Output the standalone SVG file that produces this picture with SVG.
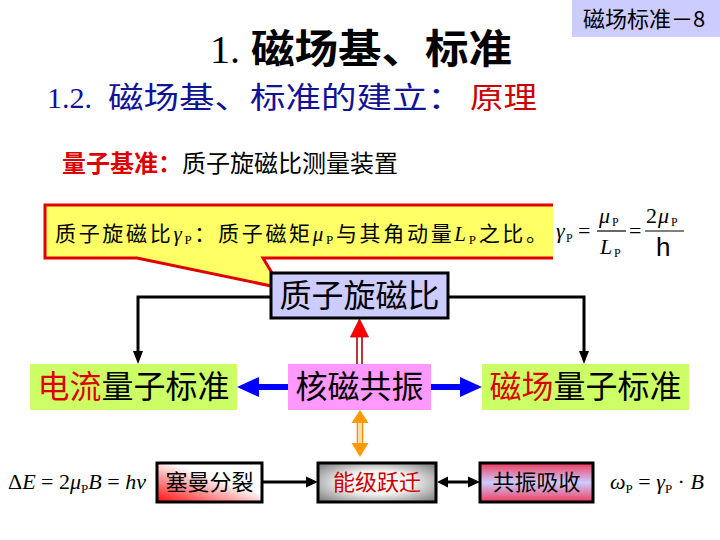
<svg xmlns="http://www.w3.org/2000/svg" width="720" height="540" viewBox="0 0 720 540">
<style>
.cjk{font-family:"Noto Sans CJK SC","Liberation Sans",sans-serif}
.ser{font-family:"Liberation Serif","Noto Sans CJK SC",serif}
.it{font-style:italic}
.box{stroke:#000;stroke-width:3}
.bline{stroke:#000;stroke-width:3;fill:none}
</style>
<defs>
<linearGradient id="gZee" x1="0" y1="1" x2="0.9" y2="0">
<stop offset="0" stop-color="#FF0A0A"/><stop offset="0.62" stop-color="#FFFFFF"/><stop offset="1" stop-color="#FFFFFF"/>
</linearGradient>
<radialGradient id="gLev" cx="0.5" cy="0.5" r="0.75">
<stop offset="0" stop-color="#FFFFFF"/><stop offset="0.4" stop-color="#F2F2F2"/><stop offset="1" stop-color="#666666"/>
</radialGradient>
<linearGradient id="gRes" x1="0" y1="0" x2="0" y2="1">
<stop offset="0" stop-color="#F03A5C"/><stop offset="0.5" stop-color="#CCCCFF"/><stop offset="1" stop-color="#F03A5C"/>
</linearGradient>
</defs>
<rect width="720" height="540" fill="#FFFFFF"/>

<g id="page-label">
<rect x="572" y="0" width="148" height="37" fill="#CCCCFF"/>
<text x="583" y="27" font-size="22" class="cjk">磁场标准－8</text>
</g>

<g id="title">
<text x="210" y="63" font-size="40" class="ser">1.</text>
<text x="251" y="63" font-size="40" font-weight="bold" class="cjk" textLength="261" lengthAdjust="spacingAndGlyphs">磁场基、标准</text>
</g>

<g id="subtitle">
<text x="47" y="108" font-size="30" class="ser" fill="#121296">1.2.</text>
<text x="108" y="108" font-size="30" class="cjk" fill="#121296" textLength="355" lengthAdjust="spacingAndGlyphs">磁场基、标准的建立：</text>
<text x="470" y="108" font-size="30" class="cjk" fill="#CC0000" textLength="67" lengthAdjust="spacingAndGlyphs">原理</text>
</g>

<g id="heading">
<text x="62" y="172" font-size="24" class="cjk"><tspan fill="#DD0000" font-weight="bold">量子基准：</tspan><tspan fill="#000">质子旋磁比测量装置</tspan></text>
</g>

<g id="callout">
<path d="M45,205 H553 V258 H263 L281,288 L137,258 H45 Z" fill="#FFFF66"/>
<path d="M553,205 H45 V258 H137 L281,288 L263,258 H553" fill="none" stroke="#E00000" stroke-width="3" stroke-linejoin="miter"/>
<text x="55" y="241" font-size="21" class="ser" textLength="492" lengthAdjust="spacing">质子旋磁比<tspan class="it">γ</tspan><tspan font-size="13" dy="3">P</tspan><tspan dy="-3">：质子磁矩</tspan><tspan class="it">μ</tspan><tspan font-size="13" dy="3">P</tspan><tspan dy="-3">与其角动量</tspan><tspan class="it">L</tspan><tspan font-size="13" dy="3">P</tspan><tspan dy="-3">之比。</tspan></text>
</g>

<g id="formula-gamma">
<text x="556" y="238" font-size="22" class="it ser">γ</text>
<text x="566" y="242" font-size="12" class="ser">P</text>
<text x="578" y="238" font-size="22" class="ser">=</text>
<text x="599" y="223" font-size="22" class="it ser">μ</text>
<text x="612" y="226" font-size="12" class="ser">P</text>
<line x1="597" y1="231" x2="626" y2="231" stroke="#000" stroke-width="1.2"/>
<text x="600" y="254" font-size="22" class="it ser">L</text>
<text x="614" y="257" font-size="12" class="ser">P</text>
<text x="629" y="238" font-size="22" class="ser">=</text>
<text x="646" y="223" font-size="22" class="ser">2</text>
<text x="658" y="223" font-size="22" class="it ser">μ</text>
<text x="671" y="226" font-size="12" class="ser">P</text>
<line x1="645" y1="231" x2="684" y2="231" stroke="#000" stroke-width="1.2"/>
<text x="656" y="256" font-size="26" font-family="Liberation Sans, sans-serif">h</text>
</g>

<g id="connectors">
<path class="bline" d="M138,352 V297 H271"/>
<polygon points="133,351 143,351 138,364" fill="#000"/>
<path class="bline" d="M448,297 H584 V352"/>
<polygon points="579,351 589,351 584,364" fill="#000"/>
<line x1="357" y1="336" x2="357" y2="364" stroke="#B00000" stroke-width="1.6"/>
<line x1="362" y1="336" x2="362" y2="364" stroke="#B00000" stroke-width="1.6"/>
<polygon points="350.5,337 368.5,337 359.5,319" fill="#FF0000" stroke="#C00000" stroke-width="0.8"/>
<rect x="258" y="384" width="30" height="6" fill="#0000FF"/>
<polygon points="259,377 259,397 237,387" fill="#0000FF"/>
<rect x="431" y="384" width="31" height="6" fill="#0000FF"/>
<polygon points="460,377 460,397 482,387" fill="#0000FF"/>
<line x1="357.5" y1="422" x2="357.5" y2="444" stroke="#F29000" stroke-width="1.6"/>
<line x1="360" y1="422" x2="360" y2="444" stroke="#FFD080" stroke-width="1.4"/>
<line x1="362.5" y1="422" x2="362.5" y2="444" stroke="#F29000" stroke-width="1.6"/>
<polygon points="351.5,423 368.5,423 360,410" fill="#FF9900"/>
<polygon points="351.5,443 368.5,443 360,457" fill="#FF9900"/>
<line x1="262" y1="482" x2="308" y2="482" stroke="#000" stroke-width="3"/>
<polygon points="306,476.5 306,487.5 318,482" fill="#000"/>
<line x1="446" y1="482" x2="470" y2="482" stroke="#000" stroke-width="3"/>
<polygon points="448,476.5 448,487.5 437,482" fill="#000"/>
<polygon points="468,476.5 468,487.5 480,482" fill="#000"/>
</g>

<g id="node-gyro">
<rect x="271" y="273" width="177" height="45" fill="#CCCCFF" class="box"/>
<text x="359.5" y="307" font-size="32" text-anchor="middle" class="cjk">质子旋磁比</text>
</g>

<g id="node-current">
<rect x="30" y="364" width="207" height="46" fill="#CCFF66"/>
<text x="133.5" y="398" font-size="32" text-anchor="middle" class="cjk"><tspan fill="#DD0000">电流</tspan>量子标准</text>
</g>

<g id="node-nmr">
<rect x="288" y="364" width="143" height="46" fill="#FF99FF"/>
<text x="359.5" y="398" font-size="32" text-anchor="middle" class="cjk">核磁共振</text>
</g>

<g id="node-field">
<rect x="482" y="364" width="207" height="46" fill="#CCFF66"/>
<text x="585.5" y="398" font-size="32" text-anchor="middle" class="cjk"><tspan fill="#DD0000">磁场</tspan>量子标准</text>
</g>

<g id="node-zeeman">
<rect x="157" y="463" width="105" height="39" fill="url(#gZee)" class="box"/>
<text x="209.5" y="490" font-size="22" text-anchor="middle" class="cjk">塞曼分裂</text>
</g>

<g id="node-level">
<rect x="318" y="463" width="118" height="39" fill="url(#gLev)" class="box"/>
<text x="377" y="490" font-size="22" text-anchor="middle" class="cjk" fill="#CC0000">能级跃迁</text>
</g>

<g id="node-absorb">
<rect x="480" y="463" width="113" height="39" fill="url(#gRes)" class="box"/>
<text x="536.5" y="490" font-size="22" text-anchor="middle" class="cjk">共振吸收</text>
</g>

<g id="formula-energy">
<text x="8" y="489" font-size="22" class="ser">Δ<tspan class="it">E</tspan> = 2<tspan class="it">μ</tspan><tspan font-size="13" dy="4">P</tspan><tspan class="it" dy="-4">B</tspan> = <tspan class="it">hν</tspan></text>
</g>

<g id="formula-omega">
<text x="610" y="489" font-size="22" class="ser"><tspan class="it">ω</tspan><tspan font-size="13" dy="4">P</tspan><tspan dy="-4"> = </tspan><tspan class="it">γ</tspan><tspan font-size="13" dy="4">P</tspan><tspan dy="-4"> · </tspan><tspan class="it">B</tspan></text>
</g>
</svg>
